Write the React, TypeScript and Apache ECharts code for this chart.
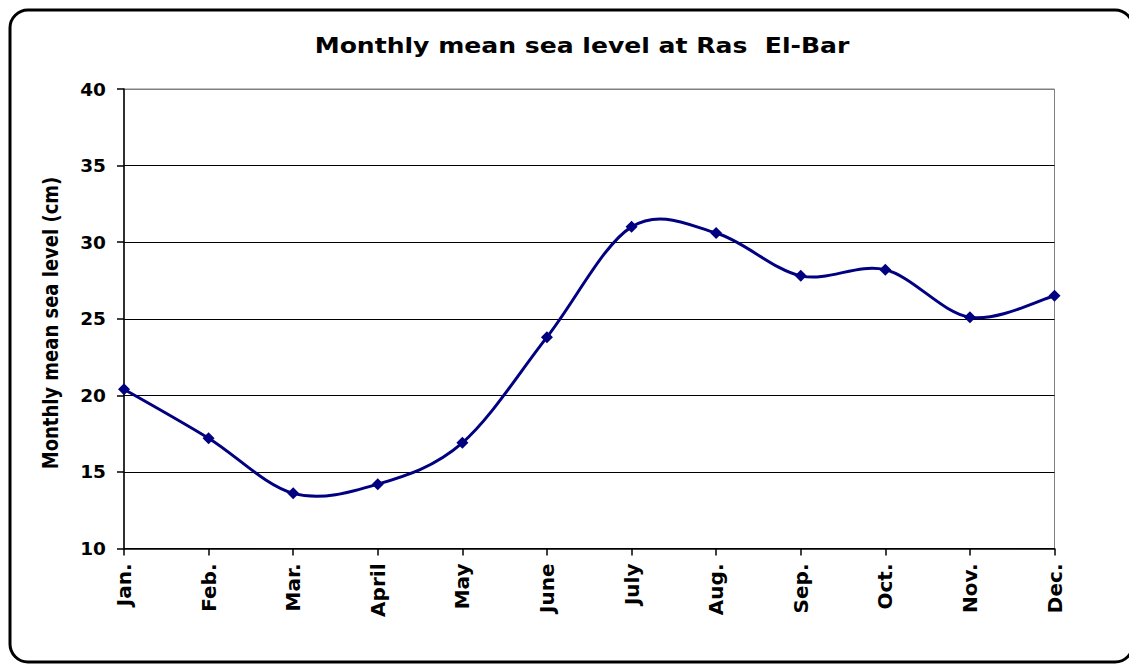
import React, { useEffect, useRef } from "react";
import * as echarts from "echarts";

// Monthly mean sea level at Ras El-Bar (cm)
const months = ["Jan.", "Feb.", "Mar.", "April", "May", "June", "July", "Aug.", "Sep.", "Oct.", "Nov.", "Dec."];
const seaLevel = [20.4, 17.2, 13.6, 14.2, 16.9, 23.8, 31.0, 30.6, 27.8, 28.2, 25.1, 26.5];

const titleText = "Monthly mean sea level at Ras\u00a0\u00a0El-Bar";
const yAxisTitle = "Monthly mean sea level (cm)";

const FONT = "'DejaVu Sans', sans-serif";
const LINE_COLOR = "#000080";

// Catmull-Rom style bezier segment between point i and i+1, in pixel space
function smoothSegment(api: any, i: number) {
  const n = seaLevel.length;
  if (i >= n - 1) return null;
  const at = (k: number) => {
    const j = Math.max(0, Math.min(n - 1, k));
    return api.coord([j, seaLevel[j]]);
  };
  const p0 = at(i - 1);
  const p1 = at(i);
  const p2 = at(i + 1);
  const p3 = at(i + 2);
  const c1 = [p1[0] + (p2[0] - p0[0]) / 6, p1[1] + (p2[1] - p0[1]) / 6];
  const c2 = [p2[0] - (p3[0] - p1[0]) / 6, p2[1] - (p3[1] - p1[1]) / 6];
  return {
    type: "path",
    shape: {
      pathData: `M${p1[0]},${p1[1]} C${c1[0]},${c1[1]} ${c2[0]},${c2[1]} ${p2[0]},${p2[1]}`,
    },
    style: { fill: "none", stroke: LINE_COLOR, lineWidth: 3, lineCap: "round", lineJoin: "round" },
  };
}

export default function App() {
  const ref = useRef<HTMLDivElement>(null);

  useEffect(() => {
    if (!ref.current) return;
    const chart = echarts.init(ref.current, null, { renderer: "svg" });
    chart.setOption({
      animation: false,
      backgroundColor: "#ffffff",
      grid: {
        left: 124,
        top: 89,
        right: 74.5,
        bottom: 115.5,
        show: true,
        borderColor: "#808080",
        borderWidth: 1,
        backgroundColor: "transparent",
      },
      xAxis: {
        type: "category",
        data: months,
        boundaryGap: false,
        axisLine: { show: true, onZero: false, lineStyle: { color: "#000", width: 1.5 } },
        axisTick: { show: true, inside: false, length: 7, lineStyle: { color: "#000", width: 1.5 } },
        axisLabel: {
          rotate: 90,
          margin: 15,
          color: "#000",
          fontFamily: FONT,
          fontWeight: "bold",
          fontSize: 20,
          interval: 0,
        },
        splitLine: { show: false },
      },
      yAxis: {
        type: "value",
        min: 10,
        max: 40,
        interval: 5,
        axisLine: { show: true, lineStyle: { color: "#000", width: 1.5 } },
        axisTick: { show: true, inside: false, length: 7, lineStyle: { color: "#000", width: 1.5 } },
        axisLabel: {
          margin: 18,
          color: "#000",
          fontFamily: FONT,
          fontWeight: "bold",
          fontSize: 18.5,
        },
        splitLine: {
          show: true,
          lineStyle: {
            color: ["#000", "#000", "#000", "#000", "#000", "#000", "#808080"],
            width: 1.2,
          },
        },
      },
      series: [
        {
          // smoothed curve through the monthly values
          type: "custom",
          data: seaLevel.map((v, i) => [i, v]),
          encode: { x: 0, y: 1 },
          renderItem: (params: any, api: any) => smoothSegment(api, params.dataIndex),
          z: 2,
          silent: true,
        },
        {
          // diamond markers at each month
          type: "line",
          data: seaLevel,
          symbol: "diamond",
          symbolSize: 12,
          itemStyle: { color: LINE_COLOR },
          lineStyle: { width: 0, opacity: 0 },
          z: 3,
        },
      ],
      graphic: [
        {
          type: "rect",
          shape: { x: 10, y: 10, width: 1123, height: 652, r: 18 },
          style: { fill: "none", stroke: "#000", lineWidth: 3 },
          silent: true,
          z: 100,
        },
        {
          type: "text",
          x: 582,
          y: 46,
          scaleX: 1.14,
          style: {
            text: titleText,
            fill: "#000",
            font: `bold 22px ${FONT}`,
            textAlign: "center",
            textVerticalAlign: "middle",
          },
        },
        {
          type: "text",
          x: 51,
          y: 323,
          rotation: Math.PI / 2,
          scaleY: 1.15,
          style: {
            text: yAxisTitle,
            fill: "#000",
            font: `bold 18px ${FONT}`,
            textAlign: "center",
            textVerticalAlign: "middle",
          },
        },
      ],
    });
    return () => chart.dispose();
  }, []);

  return (
    <div
      ref={ref}
      style={{ position: "fixed", left: 0, top: 0, width: 1129, height: 664 }}
    />
  );
}
